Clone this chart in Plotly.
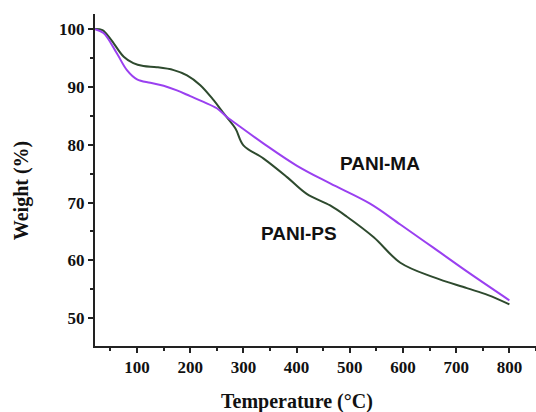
import plotly.graph_objects as go

# PANI-PS (dark green)
ps_temp = [20, 35, 50, 75, 93, 112, 137, 169, 194, 219, 244, 263, 285, 300, 338, 382, 419, 463, 494, 545, 595, 657, 720, 760, 800]
ps_weight = [100, 99.8, 98.3, 95.2, 94.1, 93.6, 93.4, 92.9, 92.0, 90.3, 87.7, 85.4, 82.8, 79.9, 77.6, 74.4, 71.5, 69.5, 67.6, 64.0, 59.6, 57.1, 55.2, 54.0, 52.4]

# PANI-MA (purple)
ma_temp = [20, 37, 62, 81, 100, 125, 150, 175, 200, 225, 250, 269, 294, 338, 400, 463, 538, 595, 657, 720, 800]
ma_weight = [100, 99.3, 95.8, 92.9, 91.3, 90.7, 90.2, 89.4, 88.4, 87.4, 86.3, 84.8, 83.1, 80.2, 76.4, 73.3, 69.8, 66.2, 62.2, 58.1, 53.1]

x_ticks = [100, 200, 300, 400, 500, 600, 700, 800]
y_ticks = [50, 60, 70, 80, 90, 100]

labels = ["PANI-MA", "PANI-PS"]
label_x = [556, 404]
label_y = [76.7, 64.6]

fig = go.Figure()
fig.add_trace(go.Scatter(x=ps_temp, y=ps_weight, mode="lines", line=dict(color="#2e4a2e", width=2, shape="spline"), name="PANI-PS"))
fig.add_trace(go.Scatter(x=ma_temp, y=ma_weight, mode="lines", line=dict(color="#9a40f0", width=2, shape="spline"), name="PANI-MA"))

for t, xx, yy in zip(labels, label_x, label_y):
    fig.add_annotation(x=xx, y=yy, text=f"<b>{t}</b>", showarrow=False,
                       font=dict(family="Liberation Sans, Arial", size=19, color="#111"))

serif = "Liberation Serif, Times New Roman, serif"
fig.add_annotation(xref="paper", yref="paper", x=0.457, y=-0.167, xanchor="center", yanchor="middle",
                   text="<b>Temperature (°C)</b>",
                   showarrow=False, font=dict(family=serif, size=20, color="#111"))
fig.add_annotation(xref="paper", yref="paper", x=-0.168, y=0.469, xanchor="center", yanchor="middle",
                   text="<b>Weight (%)</b>", textangle=-90,
                   showarrow=False, font=dict(family=serif, size=20, color="#111"))

fig.update_layout(
    width=536, height=412,
    margin=dict(l=95, r=0, t=14, b=66),
    paper_bgcolor="white", plot_bgcolor="white",
    showlegend=False,
    font=dict(family=serif, color="#111"),
)
fig.update_xaxes(range=[21, 850], tickvals=x_ticks, ticktext=[f"<b>{v}</b>" for v in x_ticks],
                 showgrid=False, zeroline=False, showline=True, linecolor="#222", linewidth=2,
                 ticks="outside", ticklen=5, tickwidth=2, tickcolor="#222",
                 tickfont=dict(family=serif, size=17, color="#111"), ticklabelstandoff=0,
                 minor=dict(tickvals=[50, 150, 250, 350, 450, 550, 650, 750, 850], ticks="outside", ticklen=3, tickwidth=2, tickcolor="#222"))
fig.update_yaxes(range=[45.2, 102.6], tickvals=y_ticks, ticktext=[f"<b>{v}</b>" for v in y_ticks],
                 showgrid=False, zeroline=False, showline=True, linecolor="#222", linewidth=2,
                 ticks="outside", ticklen=5, tickwidth=2, tickcolor="#222",
                 tickfont=dict(family=serif, size=17, color="#111"),
                 minor=dict(tickvals=[55, 65, 75, 85, 95], ticks="outside", ticklen=3, tickwidth=2, tickcolor="#222"))

fig.write_html("out.html")
